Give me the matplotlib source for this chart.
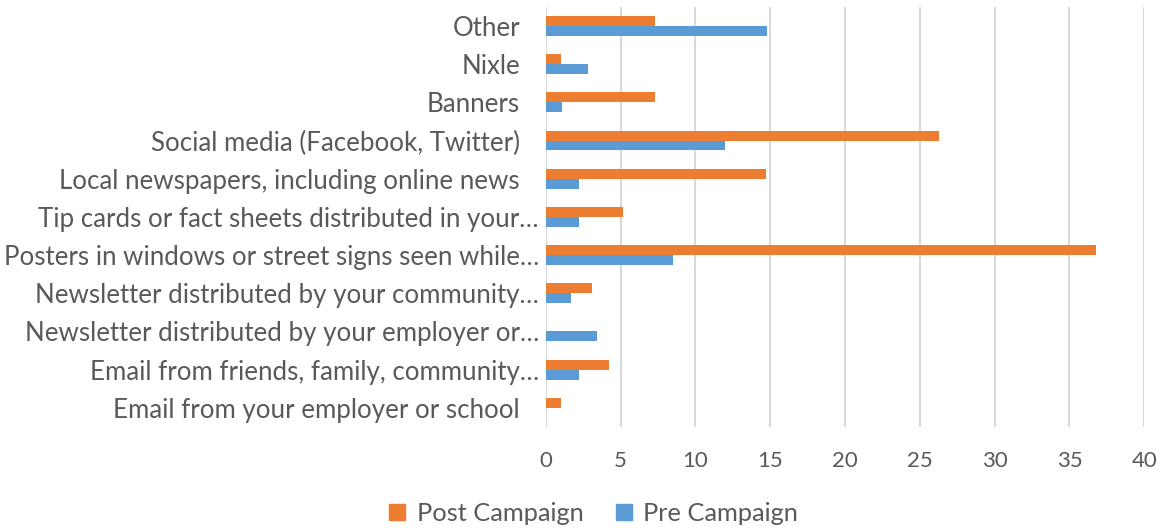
import numpy as np
import matplotlib.pyplot as plt
from matplotlib.lines import Line2D
from matplotlib.transforms import ScaledTranslation

# categorie dall'alto verso il basso
categorie = [
    "Other",
    "Nixle",
    "Banners",
    "Social media (Facebook, Twitter)",
    "Local newspapers, including online news",
    "Tip cards or fact sheets distributed in your\u2026",
    "Posters in windows or street signs seen while\u2026",
    "Newsletter distributed by your community\u2026",
    "Newsletter distributed by your employer or\u2026",
    "Email from friends, family, community\u2026",
    "Email from your employer or school",
]
post = [7.3, 1.0, 7.3, 26.3, 14.7, 5.2, 36.8, 3.1, 0.0, 4.2, 1.0]
pre = [14.8, 2.8, 1.1, 12.0, 2.2, 2.2, 8.5, 1.7, 3.4, 2.2, 0.0]

arancio = "#ED7D31"
blu = "#5B9BD5"
grigio = "#595959"

plt.rcParams['font.family'] = ['Lato', 'DejaVu Sans']

fig = plt.figure(figsize=(11.63, 5.31), dpi=100)
ax = fig.add_axes([0.4692, 0.196, 0.5147, 0.791])

y = np.arange(len(categorie))
h = 0.26
ax.barh(y - h / 2, post, height=h, color=arancio, label="Post Campaign", zorder=3)
ax.barh(y + h / 2, pre, height=h, color=blu, label="Pre Campaign", zorder=3)

ax.set_ylim(len(categorie) - 0.5, -0.5)
ax.set_xlim(0, 40)
ax.set_xticks(np.arange(0, 41, 5))
ax.set_yticks(y)
ax.set_yticklabels(categorie, fontsize=18.6, color=grigio)
ax.tick_params(axis='x', labelsize=16, colors=grigio, length=0, pad=17)
ax.tick_params(axis='y', length=0, pad=18.5)

# le etichette troncate sporgono un po' verso destra
for t in ax.get_yticklabels():
    if t.get_text().endswith("\u2026"):
        t.set_transform(t.get_transform() + ScaledTranslation(0.19, 0, fig.dpi_scale_trans))

ax.grid(axis='x', color="#D9D9D9", linewidth=1.5, zorder=0)
for s in ax.spines.values():
    s.set_visible(False)

maniglie = [
    Line2D([], [], marker='s', linestyle='none', markersize=11, color=arancio),
    Line2D([], [], marker='s', linestyle='none', markersize=11, color=blu),
]
fig.legend(maniglie, ["Post Campaign", "Pre Campaign"], loc='center',
           bbox_to_anchor=(0.503, 0.033), ncol=2, frameon=False,
           fontsize=18.3, labelcolor=grigio, handletextpad=-0.25, columnspacing=0.6)

fig.savefig("out.png", dpi=100)
